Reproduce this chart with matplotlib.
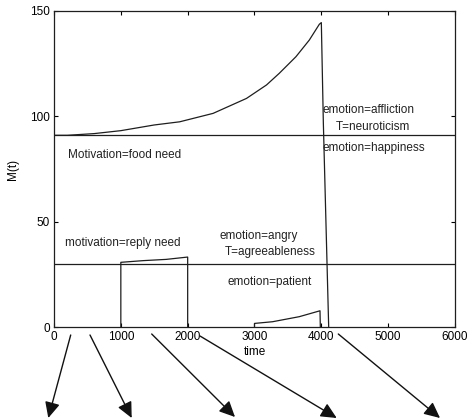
import numpy as np
import matplotlib
matplotlib.use("Agg")
import matplotlib.pyplot as plt

plt.rcParams["font.family"] = ["Liberation Sans", "DejaVu Sans"]

# --- data ---
# food-need motivation curve (rises from threshold, then falls away after t=4000)
food_t = [0, 200, 600, 1000, 1500, 1880, 2380, 2880, 3180, 3370, 3620, 3820,
          3970, 4000, 4030, 4110]
food_m = [91, 91, 91.8, 93.2, 95.9, 97.4, 101.4, 108.5, 114.9, 120.4, 128.3,
          136.2, 143.7, 144.5, 97, 0]
# reply-need motivation pulse
reply_t = [1000, 1000, 1333, 1680, 2000, 2000]
reply_m = [0, 30.7, 31.5, 32.1, 33.2, 0]
# small rise after t=3000
small_t = [3000, 3000, 3270, 3670, 3980, 3985]
small_m = [0, 1.7, 2.5, 4.9, 7.7, 0]
# thresholds
thresholds = [91, 30]

xticks = [0, 1000, 2000, 3000, 4000, 5000, 6000]
yticks = [0, 50, 100, 150]

labels = [
    (4020, 103, "emotion=affliction"),
    (4210, 95, "T=neuroticism"),
    (4020, 84.8, "emotion=happiness"),
    (210, 81.6, "Motivation=food need"),
    (165, 39.7, "motivation=reply need"),
    (2480, 43.2, "emotion=angry"),
    (2550, 35.6, "T=agreeableness"),
    (2590, 21.5, "emotion=patient"),
]

# arrows below the axes, (start, tip) in image pixels from top-left
arrows = [
    ((70.7, 335), (48.3, 418)),
    ((90, 335), (131.7, 418)),
    ((151.7, 334), (235, 417)),
    ((200, 336), (336.7, 418)),
    ((338.3, 334), (440, 418)),
]

W, H = 468, 420
fig = plt.figure(figsize=(W / 100, H / 100), dpi=100)
ax = fig.add_axes([54 / W, 1 - 327 / H, (455 - 54) / W, (327 - 11) / H])

LC = "#1e1e1e"
ax.plot(food_t, food_m, color=LC, lw=0.9)
ax.plot(reply_t, reply_m, color=LC, lw=0.9)
ax.plot(small_t, small_m, color=LC, lw=0.9)
for th in thresholds:
    ax.axhline(th, color=LC, lw=0.9)

for x, y, s in labels:
    ax.text(x, y, s, fontsize=8.5, ha="left", va="center", color="#222222")

ax.set_xlim(0, 6000)
ax.set_ylim(0, 150)
ax.set_xticks(xticks)
ax.set_yticks(yticks)
ax.tick_params(direction="in", length=3, width=0.8, labelsize=8.5,
               top=True, right=True, pad=3)
for sp in ax.spines.values():
    sp.set_linewidth(0.9)
    sp.set_color(LC)
ax.set_xlabel("time", fontsize=8.5, labelpad=2)
ax.set_ylabel("M(t)", fontsize=8.5, labelpad=8)

for (x0, y0), (x1, y1) in arrows:
    ax.annotate("", xy=(x1, H - y1), xytext=(x0, H - y0),
                xycoords="figure pixels", textcoords="figure pixels",
                arrowprops=dict(arrowstyle="-|>,head_length=0.8,head_width=0.38",
                                color="#111111", lw=1.0, shrinkA=0, shrinkB=0,
                                mutation_scale=12),
                annotation_clip=False)

fig.savefig("out.png", dpi=100, facecolor="white")
